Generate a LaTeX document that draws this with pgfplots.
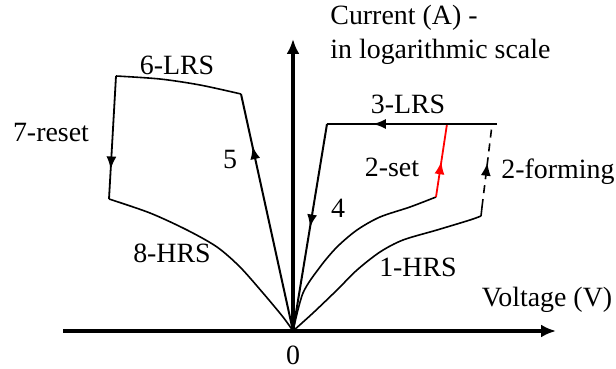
\documentclass[border=0pt]{standalone}
\usepackage{pgfplots}
\pgfplotsset{compat=1.18}
\usepackage{fontspec}
\setmainfont{Liberation Serif}
\usetikzlibrary{arrows.meta,decorations.markings}
\tikzset{
  midarrow/.style={postaction={decorate},decoration={markings,mark=at position #1 with {\arrow{Latex[length=6.5bp,width=5bp]}}}},
}
\begin{document}
\fontsize{14}{16.8}\selectfont
\begin{tikzpicture}[every node/.style={inner sep=0pt}]
\begin{axis}[
  scale only axis, width=308bp, height=184.5bp,
  xmin=0, xmax=616, ymin=0, ymax=369, y dir=reverse,
  enlargelimits=false, hide axis, clip=false,
]
% bounding frame (invisible)
\addplot[draw=none] coordinates {(0,0) (616,369)};
% axes
\addplot[line width=2bp, -{Latex[length=7.5bp,width=6.5bp]}] coordinates {(63,331) (556,331)};
\addplot[line width=2bp, -{Latex[length=7.5bp,width=6.5bp]}] coordinates {(293,331) (293,39)};
% 5
\addplot[line width=1bp, midarrow=0.78] coordinates {(293,331) (241,94)};
% 6-LRS
\addplot[line width=0.8bp, smooth] coordinates {(241,94) (200,85) (160,79) (116,76)};
% 7-reset
\addplot[line width=0.9bp, midarrow=0.76] coordinates {(116,76) (109,199)};
% 8-HRS
\addplot[line width=0.8bp, smooth] coordinates {(109,199) (150,213) (187,230) (217,247) (240,267) (263,293) (283,317) (293,331)};
% 1-HRS
\addplot[line width=0.8bp, smooth] coordinates {(293,331) (313,313) (337,290) (357,270) (380,252) (403,240) (437,230) (470,220) (481,216)};
\addplot[line width=0.8bp] coordinates {(481,216) (482,207)};
% 2-forming (dashed)
\addplot[line width=0.8bp, dash pattern=on 4bp off 3bp, midarrow=0.54] coordinates {(482,207) (492,125)};
% set curve (inner)
\addplot[line width=0.8bp, smooth] coordinates {(293,331) (303,293) (320,267) (337,247) (357,230) (380,217) (410,207) (436,197)};
% 2-set (red)
\addplot[line width=0.9bp, red, midarrow=0.49] coordinates {(436,197) (447,124)};
% 3-LRS
\addplot[line width=0.9bp, midarrow=0.73] coordinates {(497,124) (327,124)};
% 4
\addplot[line width=1bp, midarrow=0.5] coordinates {(327,124) (293,331)};
% labels
\node[anchor=west] at (axis cs:330,18) {Current (A) -};
\node[anchor=west] at (axis cs:330,52) {in logarithmic scale};
\node at (axis cs:547,300) {Voltage (V)};
\node at (axis cs:293,355) {0};
\node at (axis cs:177,65) {6-LRS};
\node at (axis cs:51,133) {7-reset};
\node at (axis cs:230,160) {5};
\node at (axis cs:172,253) {8-HRS};
\node at (axis cs:408,104) {3-LRS};
\node at (axis cs:392,167) {2-set};
\node at (axis cs:558,172) {2-forming};
\node at (axis cs:338,208) {4};
\node at (axis cs:418,267) {1-HRS};
\end{axis}
\end{tikzpicture}
\end{document}
